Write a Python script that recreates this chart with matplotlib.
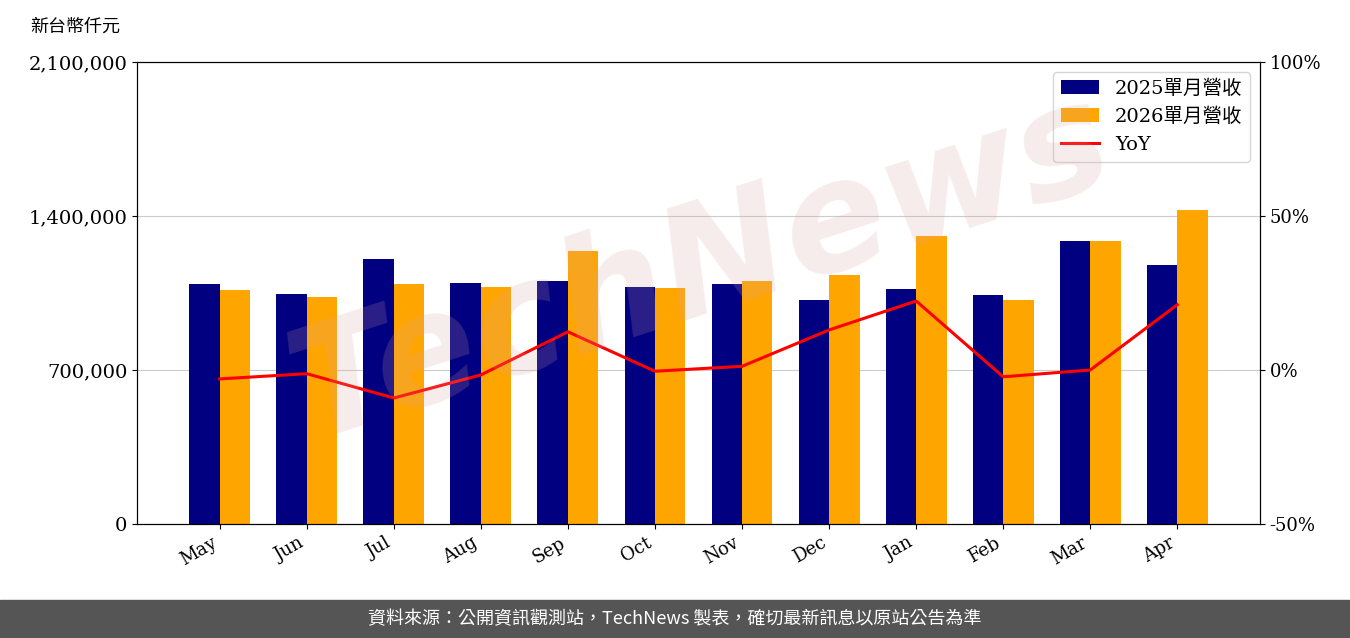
import matplotlib
matplotlib.use("Agg")
import matplotlib.pyplot as plt
import numpy as np

months = ['May', 'Jun', 'Jul', 'Aug', 'Sep', 'Oct', 'Nov', 'Dec', 'Jan', 'Feb', 'Mar', 'Apr']
rev_2025 = [1091000, 1045000, 1204000, 1095000, 1104000, 1077000, 1091000, 1018000, 1068000, 1041000, 1286000, 1177000]
rev_2026 = [1063000, 1032000, 1091000, 1077000, 1241000, 1073000, 1104000, 1132000, 1309000, 1018000, 1286000, 1427000]
yoy = [-2.9, -1.2, -9.1, -1.6, 12.4, -0.4, 1.2, 13.0, 22.4, -2.2, 0.0, 21.2]

plt.rcParams['font.family'] = ['DejaVu Serif', 'Noto Sans CJK TC']

fig = plt.figure(figsize=(13.5, 6.38), dpi=100)
ax = fig.add_axes([137/1350, 1-524/638, (1260-137)/1350, (524-62)/638])
x = np.arange(len(months))
w = 0.35
ax.bar(x - w/2, rev_2025, w, color='#000080', label='2025單月營收', zorder=2)
ax.bar(x + w/2, rev_2026, w, color='#FFA500', label='2026單月營收', zorder=2)
ax.set_ylim(0, 2100000)
ax.set_yticks([0, 700000, 1400000, 2100000])
ax.set_yticklabels(['0', '700,000', '1,400,000', '2,100,000'], fontsize=14)
ax.grid(axis='y', color='#cccccc', zorder=0)
ax.set_xticks(x)
ax.set_xticklabels(months, rotation=30, ha='right', fontsize=13)
ax.set_xlim(-0.95, 11.95)

ax2 = ax.twinx()
ax2.plot(x, yoy, color='red', lw=2.2, label='YoY')
ax2.set_ylim(-50, 100)
ax2.set_yticks([-50, 0, 50, 100])
ax2.set_yticklabels(['-50%', '0%', '50%', '100%'], fontsize=13)

h1, l1 = ax.get_legend_handles_labels()
h2, l2 = ax2.get_legend_handles_labels()
ax2.legend(h1 + h2, l1 + l2, loc='upper right', fontsize=14)

fig.text(30/1350, 1-27/638, '新台幣仟元', fontsize=13, va='center')
fig.text(0.52, 0.58, 'TechNews', fontsize=110, color='#d9a0a0', alpha=0.2,
         rotation=18, ha='center', va='center', fontweight='bold', zorder=0,
         family='DejaVu Sans', fontstyle='italic')

fig.patches.append(plt.Rectangle((0, 0), 1, 38/638, transform=fig.transFigure,
                                 color='#555555', zorder=0))
fig.text(0.5, 19/638, '資料來源：公開資訊觀測站，TechNews 製表，確切最新訊息以原站公告為準',
         color='white', fontsize=13, ha='center', va='center',
         family=['Noto Sans CJK TC', 'DejaVu Sans'])

fig.savefig('out.png', dpi=100)
